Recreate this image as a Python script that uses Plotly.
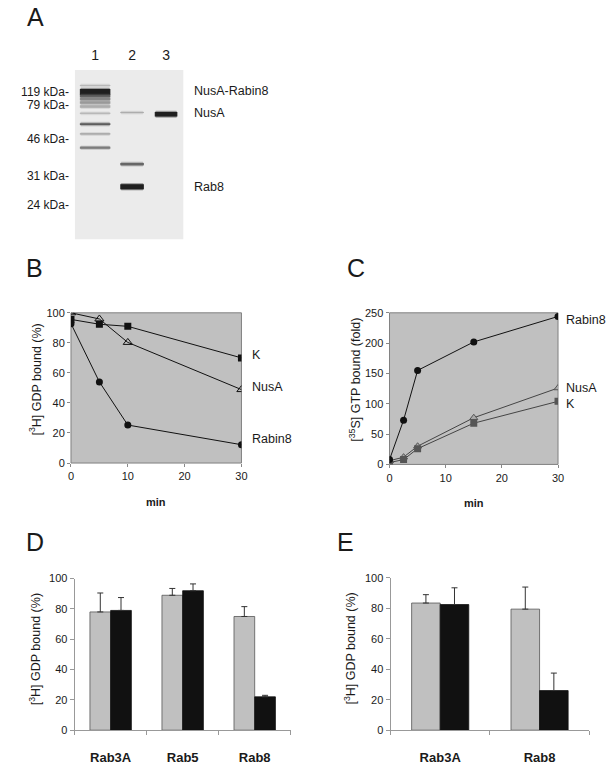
import plotly.graph_objects as go

W, H = 612, 767
FONT = "Liberation Sans, Arial, sans-serif"
TXT = "#1a1a1a"

# ---------------- Panel A: gel ----------------
lane_names = ["1", "2", "3"]
lane_centers = [20.5, 58.0, 92.5]
lane_widths = [31, 24, 23]
mw_labels = ["119 kDa-", "79 kDa-", "46 kDa-", "31 kDa-", "24 kDa-"]
mw_pos = [22.3, 35.0, 70.0, 107.7, 137.3]
band_names = ["NusA-Rabin8", "NusA", "Rab8"]
band_name_pos = [21.5, 44.0, 119.0]
band_lane = [0, 0, 0, 0, 0, 0, 0, 0, 0, 0, 1, 1, 1, 2]
band_pos = [15.7, 22.3, 26.5, 29.5, 33.0, 37.0, 44.0, 55.0, 65.0, 79.0, 43.3, 95.7, 118.7, 45.0]
band_thick = [1.0, 6.0, 2.5, 2.5, 2.5, 2.5, 1.2, 2.0, 1.2, 1.8, 1.0, 2.2, 5.0, 4.5]
band_int = [0.25, 1.0, 0.7, 0.5, 0.4, 0.3, 0.25, 0.7, 0.35, 0.55, 0.3, 0.65, 1.0, 1.0]

# ---------------- Panel B ----------------
b_time = [0, 5, 10, 30]
b_K = [95.6, 92.4, 91.0, 70.0]
b_NusA = [100.0, 95.9, 80.3, 48.9]
b_Rabin8 = [92.8, 54.0, 25.3, 12.2]

# ---------------- Panel C ----------------
c_time = [0, 2.5, 5, 15, 30]
c_Rabin8 = [8, 73, 155, 202, 244]
c_NusA = [6, 12, 30, 77, 126]
c_K = [3, 8, 26, 68, 104]

# ---------------- Panel D ----------------
d_cats = ["Rab3A", "Rab5", "Rab8"]
d_gray = [78, 89, 75]
d_gray_err = [12.5, 4.5, 6.5]
d_black = [79, 92, 22]
d_black_err = [8.5, 4.5, 1.0]

# ---------------- Panel E ----------------
e_cats = ["Rab3A", "Rab8"]
e_gray = [83.5, 79.5]
e_gray_err = [5.5, 14.5]
e_black = [82.5, 26]
e_black_err = [11, 11.5]


def px_x(a, b):
    return [a / W, b / W]


def px_y(top, bottom):
    return [1 - bottom / H, 1 - top / H]


fig = go.Figure()

# ---- B traces
fig.add_trace(go.Scatter(x=b_time, y=b_K, mode="lines+markers", xaxis="x", yaxis="y",
                         line=dict(color="#111", width=1),
                         marker=dict(symbol="square", size=7, color="#111")))
fig.add_trace(go.Scatter(x=b_time, y=b_NusA, mode="lines+markers", xaxis="x", yaxis="y",
                         line=dict(color="#111", width=1),
                         marker=dict(symbol="triangle-up-open", size=8, color="#111",
                                     line=dict(width=1))))
fig.add_trace(go.Scatter(x=b_time, y=b_Rabin8, mode="lines+markers", xaxis="x", yaxis="y",
                         line=dict(color="#111", width=1),
                         marker=dict(symbol="circle", size=7, color="#111")))

# ---- C traces
fig.add_trace(go.Scatter(x=c_time, y=c_NusA, mode="lines+markers", xaxis="x2", yaxis="y2",
                         line=dict(color="#444", width=1),
                         marker=dict(symbol="triangle-up", size=7, color="#aaa",
                                     line=dict(color="#555", width=1))))
fig.add_trace(go.Scatter(x=c_time, y=c_K, mode="lines+markers", xaxis="x2", yaxis="y2",
                         line=dict(color="#444", width=1),
                         marker=dict(symbol="square", size=7, color="#555")))
fig.add_trace(go.Scatter(x=c_time, y=c_Rabin8, mode="lines+markers", xaxis="x2", yaxis="y2",
                         line=dict(color="#111", width=1),
                         marker=dict(symbol="circle", size=7, color="#111")))


def err(arr):
    return dict(type="data", symmetric=False, array=arr, arrayminus=[0] * len(arr),
                color="#333", thickness=1, width=3)


# ---- D bars
fig.add_trace(go.Bar(x=d_cats, y=d_gray, xaxis="x3", yaxis="y3", error_y=err(d_gray_err),
                     marker=dict(color="#c0c0c0", line=dict(color="#555", width=0.8))))
fig.add_trace(go.Bar(x=d_cats, y=d_black, xaxis="x3", yaxis="y3", error_y=err(d_black_err),
                     marker=dict(color="#111", line=dict(color="#111", width=0.8))))
# ---- E bars
fig.add_trace(go.Bar(x=e_cats, y=e_gray, xaxis="x4", yaxis="y4", error_y=err(e_gray_err),
                     marker=dict(color="#c0c0c0", line=dict(color="#555", width=0.8))))
fig.add_trace(go.Bar(x=e_cats, y=e_black, xaxis="x4", yaxis="y4", error_y=err(e_black_err),
                     marker=dict(color="#111", line=dict(color="#111", width=0.8))))

# ---- gel dummy trace to activate axes
fig.add_trace(go.Scatter(x=lane_centers, y=[-10] * 3, mode="markers", xaxis="x5", yaxis="y5",
                         marker=dict(opacity=0), hoverinfo="skip"))

tickfont = dict(family=FONT, size=11, color=TXT)

line_axis = dict(showgrid=False, zeroline=False, showline=False, ticks="outside",
                 ticklen=3, tickcolor="#888", tickfont=tickfont)

fig.update_layout(
    width=W, height=H, margin=dict(l=0, r=0, t=0, b=0),
    paper_bgcolor="white", plot_bgcolor="white", showlegend=False,
    barmode="group", bargap=0.425, bargroupgap=0,
    font=dict(family=FONT, color=TXT),
    xaxis=dict(domain=px_x(69, 242), anchor="y", range=[0, 30], tickvals=[0, 10, 20, 30], **line_axis),
    yaxis=dict(domain=px_y(311.7, 464.3), anchor="x", range=[0, 100], dtick=20, **line_axis),
    xaxis2=dict(domain=px_x(392.3, 563.3), anchor="y2", range=[0, 30], tickvals=[0, 10, 20, 30], **line_axis),
    yaxis2=dict(domain=px_y(311.7, 465.7), anchor="x2", range=[0, 250], dtick=50, **line_axis),
    xaxis3=dict(domain=px_x(72.7, 292), anchor="y3", showgrid=False, showline=True, linecolor="#999",
                ticks="outside", ticklen=4, tickcolor="#999", tickson="boundaries",
                tickfont=dict(family=FONT, size=13, color=TXT, weight="bold"), ticklabelstandoff=15),
    yaxis3=dict(domain=px_y(581.7, 735.7), anchor="x3", range=[0, 100], dtick=20, showgrid=False,
                zeroline=False, showline=True, linecolor="#999", ticks="outside", ticklen=4,
                tickcolor="#999", tickfont=tickfont),
    xaxis4=dict(domain=px_x(393.3, 595), anchor="y4", showgrid=False, showline=True, linecolor="#999",
                ticks="outside", ticklen=4, tickcolor="#999", tickson="boundaries",
                tickfont=dict(family=FONT, size=13, color=TXT, weight="bold"), ticklabelstandoff=15),
    yaxis4=dict(domain=px_y(581, 735.7), anchor="x4", range=[0, 100], dtick=20, showgrid=False,
                zeroline=False, showline=True, linecolor="#999", ticks="outside", ticklen=4,
                tickcolor="#999", tickfont=tickfont),
    xaxis5=dict(domain=px_x(73, 183), anchor="y5", range=[0, 110], side="top", showgrid=False,
                zeroline=False, showline=False, ticks="", tickvals=lane_centers, ticktext=lane_names,
                tickfont=dict(family=FONT, size=14, color=TXT), ticklabelstandoff=6),
    yaxis5=dict(domain=px_y(65, 237), anchor="x5", range=[172, 0], showgrid=False, zeroline=False,
                showline=False, ticks="", tickvals=mw_pos, ticktext=mw_labels,
                tickfont=dict(family=FONT, size=12, color=TXT), ticklabelstandoff=5),
)

shapes = []
# gray plot backgrounds for B and C
for xr, yr in [("x", "y"), ("x2", "y2")]:
    shapes.append(dict(type="rect", xref=f"{xr} domain", yref=f"{yr} domain", x0=0, x1=1, y0=0, y1=1,
                       fillcolor="#c0c0c0", line=dict(color="#808080", width=1), layer="below"))
# gel background
shapes.append(dict(type="rect", xref="x5 domain", yref="y5 domain", x0=0, x1=1, y0=0, y1=1,
                   fillcolor="#ebebeb", line=dict(width=0), layer="below"))
# gel bands (soft edges: halo layers + core)
for ln, pos, th, it in zip(band_lane, band_pos, band_thick, band_int):
    c = lane_centers[ln]
    w = lane_widths[ln]
    g = int(round(235 * (1 - it) + 20 * it))
    for extra, op, wshrink in [(3.0, 0.18, 1.0), (1.5, 0.35, 0.5), (0.0, 0.9, 0.0)]:
        shapes.append(dict(type="rect", xref="x5", yref="y5",
                           x0=c - w / 2 + wshrink, x1=c + w / 2 - wshrink,
                           y0=pos - (th + extra) / 2, y1=pos + (th + extra) / 2,
                           fillcolor=f"rgb({g},{g},{g})", opacity=op,
                           line=dict(width=0), layer="above"))
fig.update_layout(shapes=shapes)

ann = []
# panel letters
for letter, x, y in [("A", 22, -5), ("B", 21, 250), ("C", 347, 250), ("D", 21, 528), ("E", 337, 528)]:
    ann.append(dict(text=letter, x=x / W, y=1 - y / H, xref="paper", yref="paper", xanchor="left",
                    yanchor="top", showarrow=False, font=dict(family=FONT, size=25, color=TXT)))
# gel band labels
for name, pos in zip(band_names, band_name_pos):
    ann.append(dict(text=name, x=1, xref="x5 domain", y=pos, yref="y5", xanchor="left", xshift=9,
                    yanchor="middle", showarrow=False, font=dict(family=FONT, size=12.5, color=TXT)))
# series labels B
for name, ys, dy in [("K", b_K, 3), ("NusA", b_NusA, 3), ("Rabin8", b_Rabin8, 6)]:
    ann.append(dict(text=name, x=30, y=ys[-1], xref="x", yref="y", xanchor="left", xshift=9, yshift=dy,
                    yanchor="middle", showarrow=False, font=dict(family=FONT, size=12.5, color=TXT)))
# series labels C
for name, ys, dy in [("Rabin8", c_Rabin8, -4), ("NusA", c_NusA, 0), ("K", c_K, -3)]:
    ann.append(dict(text=name, x=30, y=ys[-1], xref="x2", yref="y2", xanchor="left", xshift=6, yshift=dy,
                    yanchor="middle", showarrow=False, font=dict(family=FONT, size=12.5, color=TXT)))
# x titles
for xr, yr in [("x domain", "y domain"), ("x2 domain", "y2 domain")]:
    ann.append(dict(text="<b>min</b>", x=0.5, y=0, xref=xr, yref=yr, yanchor="middle", yshift=-39,
                    showarrow=False, font=dict(family=FONT, size=11, color=TXT)))
# y titles
ytitles = [("[<sup>3</sup>H] GDP bound (%)", 33, 380),
           ("[<sup>35</sup>S] GTP bound (fold)", 357, 380),
           ("[<sup>3</sup>H] GDP bound (%)", 32, 654),
           ("[<sup>3</sup>H] GDP bound (%)", 352, 653)]
for t, x, y in ytitles:
    ann.append(dict(text=t, x=x / W, y=1 - y / H, xref="paper", yref="paper", textangle=-90,
                    xanchor="center", yanchor="middle", showarrow=False,
                    font=dict(family=FONT, size=12.5, color=TXT)))
fig.update_layout(annotations=ann)

fig.write_html("out.html", config={"displayModeBar": False},
               post_script="document.body.style.margin='0px';")
